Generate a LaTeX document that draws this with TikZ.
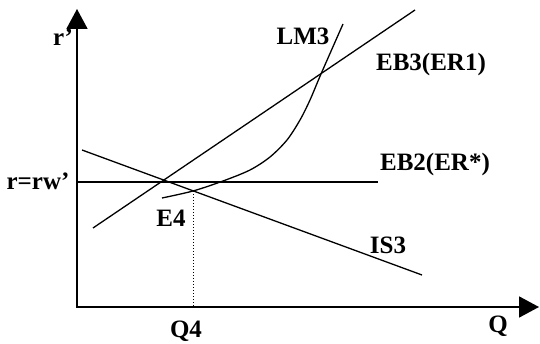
\documentclass[tikz,border=0pt]{standalone}
\usepackage{fontspec}
\setmainfont{Liberation Serif}
\usetikzlibrary{arrows.meta}

\begin{document}
\begin{tikzpicture}[x=1pt, y=-1pt, >={Triangle[length=20pt, width=21pt]},
    axis/.style={<->, line width=1.8pt},
    curve/.style={line width=1.3pt},
    guide/.style={dotted, line width=1pt},
    lbl/.style={font=\fontsize{25}{29}\selectfont\bfseries, inner sep=0pt}]
    \useasboundingbox (0,0) rectangle (540,344);
    \coordinate (rtop) at (77,9);
    \coordinate (origin) at (77,307);
    \coordinate (qend) at (539,307);
    \coordinate (e4) at (193,191);
    
    \draw[axis] (rtop) -- (origin) -- (qend);
    \draw[curve] (77,182) -- (378,182);
    \draw[curve] (82,150) -- (422,275);
    \draw[curve] (93,228) -- (415,10);
    \draw[curve] plot[smooth] coordinates {(162,198) (193,191) (223,181) (250,170) (270,157) (287,140) (300,120) (310,100) (321,74) (343,24)};
    \draw[guide] (e4) -- (e4 |- origin);
    
    \node[lbl] (rlabel) at (63,37) {r’};
    \node[lbl] (rw) at (38,181) {r=rw’};
    \node[lbl] (lm3) at (303,36) {LM3};
    \node[lbl] (eb3) at (431,64) {EB3(ER1)};
    \node[lbl] (eb2) at (435,164) {EB2(ER*)};
    \node[lbl] (is3) at (388,245) {IS3};
    \node[lbl] (e4lbl) at (171,218) {E4};
    \node[lbl] (q4) at (186,331) {Q4};
    \node[lbl] (qlabel) at (498,326) {Q};
\end{tikzpicture}
\end{document}
